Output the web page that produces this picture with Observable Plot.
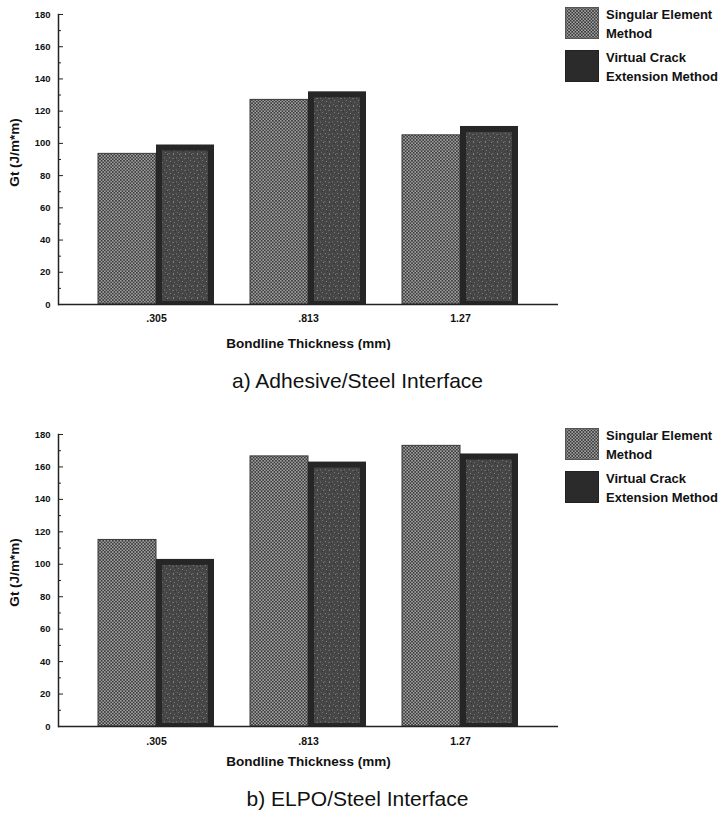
<!DOCTYPE html>
<html>
<head>
<meta charset="utf-8">
<script src="https://cdn.jsdelivr.net/npm/d3@7"></script>
<script src="https://cdn.jsdelivr.net/npm/@observablehq/plot@0.6"></script>
<style>
  body { margin: 0; background: #fff; font-family: "Liberation Sans", Arial, sans-serif; color: #111; }
  #page { position: relative; width: 725px; height: 815px; overflow: hidden; background: #fff; }
  .panel { position: absolute; left: 0; }
  .legend { position: absolute; left: 565px; font-weight: bold; font-size: 13px; line-height: 19px; color: #111; }
  .item { display: flex; align-items: flex-start; height: 36px; margin-bottom: 7px; }
  .item svg { margin-top: 2px; margin-right: 7px; flex: none; }
  .caption { position: absolute; left: 0; width: 715px; text-align: center; font-size: 21px; line-height: 24px; color: #111; }
</style>
</head>
<body>
<svg width="0" height="0" style="position:absolute">
  <defs>
    <pattern id="checker" width="3.2" height="3.2" patternUnits="userSpaceOnUse">
      <rect width="3.2" height="3.2" fill="#3a3a3a"/>
      <rect x="0.2" y="0.2" width="1.25" height="1.25" fill="#e2e2e2"/>
      <rect x="1.8" y="1.8" width="1.25" height="1.25" fill="#e2e2e2"/>
    </pattern>
    <pattern id="mottle" width="12" height="12" patternUnits="userSpaceOnUse">
      <rect width="12" height="12" fill="#464646"/>
      <rect x="1" y="1" width="1" height="1" fill="#7e7e7e"/>
      <rect x="4" y="2" width="2" height="1" fill="#6a6a6a"/>
      <rect x="8" y="1" width="1" height="2" fill="#626262"/>
      <rect x="2" y="5" width="1" height="1" fill="#828282"/>
      <rect x="6" y="6" width="1" height="1" fill="#707070"/>
      <rect x="10" y="4" width="1" height="1" fill="#7a7a7a"/>
      <rect x="0" y="9" width="2" height="1" fill="#5e5e5e"/>
      <rect x="5" y="9" width="1" height="2" fill="#808080"/>
      <rect x="9" y="8" width="1" height="1" fill="#6e6e6e"/>
      <rect x="11" y="10" width="1" height="1" fill="#858585"/>
      <rect x="3" y="7" width="1" height="1" fill="#333"/>
      <rect x="7" y="3" width="1" height="1" fill="#333"/>
      <rect x="10" y="11" width="1" height="1" fill="#303030"/>
    </pattern>
  </defs>
</svg>
<div id="page"></div>
<script>
// ---- data ----
const thickness = [".305", ".813", "1.27"];
const methods = ["Singular Element Method", "Virtual Crack Extension Method"];
const adhesiveSingular = [93.5, 127, 105];
const adhesiveVirtual = [99, 132, 110.5];
const elpoSingular = [115, 166.5, 173];
const elpoVirtual = [103, 163, 168];
const yTickLabels = [0, 20, 40, 60, 80, 100, 120, 140, 160, 180];
const yMinorTicks = [10, 30, 50, 70, 90, 110, 130, 150, 170];
const yLabel = "Gt (J/m*m)";
const xLabel = "Bondline Thickness (mm)";
const legendLines = [["Singular Element", "Method"], ["Virtual Crack", "Extension Method"]];
const captions = ["a) Adhesive/Steel Interface", "b) ELPO/Steel Interface"];

const page = document.getElementById("page");

function panel(singular, virtual, top, marginBottom, xLabelDy, yLabelDy, tickPad) {
  const sData = thickness.map((t, i) => ({t, m: methods[0], v: singular[i]}));
  const vData = thickness.map((t, i) => ({t, m: methods[1], v: virtual[i]}));
  const common = {
    width: 560, height: 350,
    marginLeft: 58, marginRight: 2, marginTop: 14, marginBottom,
    x: {domain: thickness, paddingInner: 0.24, paddingOuter: 0.255, axis: null},
    y: {domain: [0, 180], axis: null},
    style: {background: "transparent", fontFamily: "Liberation Sans, Arial, sans-serif", color: "#111"}
  };
  const probe = Plot.plot({...common, marks: [Plot.barY(sData, {x: "t", y: "v"})]});
  const half = probe.scale("x").bandwidth / 2;
  const chart = Plot.plot({
    ...common,
    marks: [
      Plot.barY(sData, {x: "t", y: "v", insetRight: half, fill: "url(#checker)", stroke: "#383838", strokeWidth: 1}),
      Plot.barY(vData, {x: "t", y: "v", insetLeft: half, fill: "#262626"}),
      Plot.barY(vData, {x: "t", y: "v", insetLeft: half + 6, insetRight: 6, insetTop: 6, insetBottom: 3, fill: "url(#mottle)"}),
      Plot.frame({anchor: "left", stroke: "#222", strokeWidth: 1.5}),
      Plot.ruleY([0], {stroke: "#222", strokeWidth: 1.6}),
      Plot.axisY({ticks: yTickLabels, tickSize: 5, dx: 5, text: null, stroke: "#222", label: null}),
      Plot.axisY({ticks: yMinorTicks, tickSize: 3, dx: 3, text: null, stroke: "#222", label: null}),
      Plot.axisY({ticks: yTickLabels, tickSize: 0, tickPadding: 8, fontSize: 9.5, fontWeight: "bold", label: null, fill: "#111"}),
      Plot.axisX({tickSize: 0, tickPadding: tickPad, fontSize: 10.5, fontWeight: "bold", label: null, fill: "#111"}),
      Plot.text([yLabel], {frameAnchor: "left", textAnchor: "middle", lineAnchor: "middle", rotate: -90, dx: -44, dy: yLabelDy, fontSize: 13.5, fontWeight: "bold", fill: "#111"}),
      Plot.text([xLabel], {frameAnchor: "bottom", textAnchor: "middle", lineAnchor: "middle", dy: xLabelDy, fontSize: 13.5, fontWeight: "bold", fill: "#111"})
    ]
  });
  chart.classList.add("panel");
  chart.style.top = top + "px";
  page.appendChild(chart);
}

panel(adhesiveSingular, adhesiveVirtual, 0, 46, 39, -7, 10);
panel(elpoSingular, elpoVirtual, 420, 44, 35, -8, 11);

function legend(top) {
  const div = document.createElement("div");
  div.className = "legend";
  div.style.top = top + "px";
  const fills = ["url(#checker)", "#2b2b2b"];
  const strokes = ["#555", "#222"];
  methods.forEach((m, i) => {
    const item = document.createElement("div");
    item.className = "item";
    item.innerHTML = `<svg width="34" height="32"><rect x="0.5" y="0.5" width="33" height="31" fill="${fills[i]}" stroke="${strokes[i]}"/></svg><div>${legendLines[i][0]}<br>${legendLines[i][1]}</div>`;
    div.appendChild(item);
  });
  page.appendChild(div);
}
legend(5);
legend(426);

function caption(text, top) {
  const d = document.createElement("div");
  d.className = "caption";
  d.style.top = top + "px";
  d.textContent = text;
  page.appendChild(d);
}
caption(captions[0], 369);
caption(captions[1], 787);
</script>
</body>
</html>
